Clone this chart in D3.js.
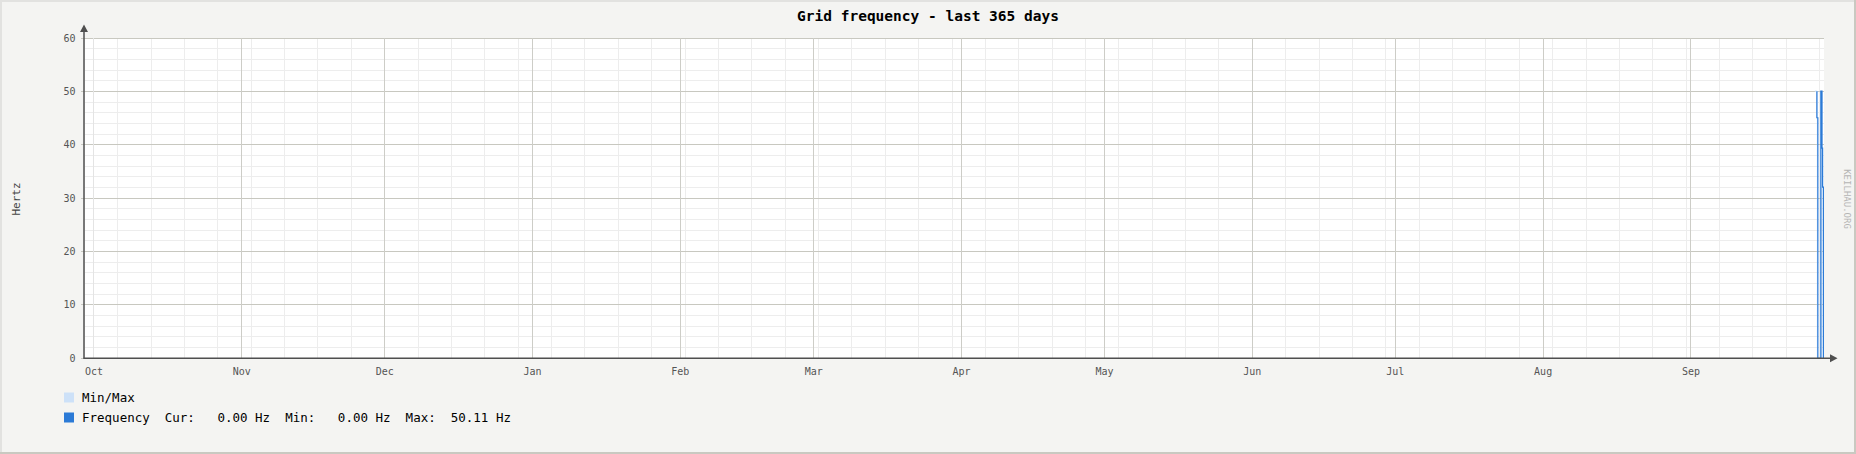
<!DOCTYPE html>
<html>
<head>
<meta charset="utf-8">
<script src="https://cdn.jsdelivr.net/npm/d3@7"></script>
<style>
  body { margin: 0; background: #f4f4f2; }
  svg { display: block; }
  text { font-family: "DejaVu Sans Mono", monospace; }
</style>
</head>
<body>
<script>
// Grid frequency - last 365 days (rrdtool style)

const timeStart = "2024-09-28T22:00Z";
const timeEnd = "2025-09-28T22:00Z";

const yTicks = [0, 10, 20, 30, 40, 50, 60];
const yMinorStep = 2;

const monthTicks = ["2024-10-01", "2024-11-01", "2024-12-01", "2025-01-01", "2025-02-01", "2025-03-01",
                    "2025-04-01", "2025-05-01", "2025-06-01", "2025-07-01", "2025-08-01", "2025-09-01"];
const monthLabels = ["Oct", "Nov", "Dec", "Jan", "Feb", "Mar", "Apr", "May", "Jun", "Jul", "Aug", "Sep"];

// frequency samples (average), only the last two days have data
const freqTimes = ["2025-09-27T09:00Z", "2025-09-27T10:00Z", "2025-09-27T15:00Z", "2025-09-28T06:00Z",
                   "2025-09-28T12:00Z", "2025-09-28T15:00Z", "2025-09-28T19:00Z", "2025-09-28T22:00Z"];
const freqValues = [50.0, 45.1, 0, 50.11, 39.4, 32.1, 0, 0];

// min/max band
const rangeStart = ["2025-09-27T00:00Z", "2025-09-27T10:00Z", "2025-09-28T06:00Z"];
const rangeEnd   = ["2025-09-27T10:00Z", "2025-09-27T15:00Z", "2025-09-28T13:00Z"];
const rangeMin = [49.95, 0, 0];
const rangeMax = [50.2, 50.11, 50.11];

const legendNames = ["Min/Max", "Frequency  Cur:   0.00 Hz  Min:   0.00 Hz  Max:  50.11 Hz"];
const legendColors = ["#cde1f8", "#2b7ad6"];

const width = 1856, height = 454;
const plot = { left: 84, right: 1824, top: 38.3, bottom: 358.3 };

const x = d3.scaleUtc()
    .domain([new Date(timeStart), new Date(timeEnd)])
    .range([plot.left, plot.right]);

const y = d3.scaleLinear()
    .domain([0, 60])
    .range([plot.bottom, plot.top]);

const svg = d3.select("body").append("svg")
    .attr("width", width)
    .attr("height", height);

// background + 3d-ish frame
svg.append("rect").attr("width", width).attr("height", height).attr("fill", "#f4f4f2");
svg.append("path").attr("d", `M1,${height} V1 H${width}`).attr("fill", "none")
    .attr("stroke", "#e2e2e0").attr("stroke-width", 2);
svg.append("path").attr("d", `M0,${height - 1} H${width - 1} V0`).attr("fill", "none")
    .attr("stroke", "#c9c9c1").attr("stroke-width", 2);

// plot area
svg.append("rect")
    .attr("x", plot.left).attr("y", plot.top)
    .attr("width", plot.right - plot.left).attr("height", plot.bottom - plot.top)
    .attr("fill", "#ffffff");

const grid = svg.append("g").attr("shape-rendering", "crispEdges");

// minor horizontal grid
const yMinor = d3.range(0, 60 + 0.001, yMinorStep).filter(v => !yTicks.includes(v));
grid.selectAll("line.ymin").data(yMinor).join("line")
    .attr("x1", plot.left).attr("x2", plot.right)
    .attr("y1", d => y(d)).attr("y2", d => y(d))
    .attr("stroke", "#ededed");

// minor vertical grid, weekly
const weeks = d3.utcSunday.range(x.domain()[0], x.domain()[1]);
grid.selectAll("line.xmin").data(weeks).join("line")
    .attr("x1", d => x(d)).attr("x2", d => x(d))
    .attr("y1", plot.top).attr("y2", plot.bottom)
    .attr("stroke", "#ededed");

// major grid
grid.selectAll("line.ymaj").data(yTicks).join("line")
    .attr("x1", plot.left - 3).attr("x2", plot.right)
    .attr("y1", d => y(d)).attr("y2", d => y(d))
    .attr("stroke", "#c8c8c0");

grid.selectAll("line.xmaj").data(monthTicks).join("line")
    .attr("x1", d => x(new Date(d))).attr("x2", d => x(new Date(d)))
    .attr("y1", plot.top).attr("y2", plot.bottom)
    .attr("stroke", (d, i) => i === 0 ? "#e4e4e4" : "#cdcdc7");

// data
const clip = svg.append("clipPath").attr("id", "clip")
  .append("rect")
    .attr("x", plot.left).attr("y", plot.top - 2)
    .attr("width", plot.right - plot.left).attr("height", plot.bottom - plot.top + 2);

const dataG = svg.append("g").attr("clip-path", "url(#clip)");

dataG.selectAll("rect.band").data(rangeStart).join("rect")
    .attr("x", (d, i) => x(new Date(d)))
    .attr("width", (d, i) => x(new Date(rangeEnd[i])) - x(new Date(d)))
    .attr("y", (d, i) => y(rangeMax[i]))
    .attr("height", (d, i) => Math.max(1, y(rangeMin[i]) - y(rangeMax[i])))
    .attr("fill", legendColors[0]);

const freq = freqTimes.map((t, i) => ({ t: new Date(t), v: freqValues[i] }));
const line = d3.line()
    .x(d => x(d.t))
    .y(d => y(d.v))
    .curve(d3.curveStepAfter);

dataG.append("path")
    .datum(freq)
    .attr("d", line)
    .attr("fill", "none")
    .attr("stroke", legendColors[1])
    .attr("stroke-width", 1.2);

// axes
const axisColor = "#4f4f4f";
svg.append("line")
    .attr("x1", plot.left).attr("x2", plot.left)
    .attr("y1", plot.bottom + 0.5).attr("y2", 31)
    .attr("stroke", axisColor).attr("stroke-width", 1.5);
svg.append("path")
    .attr("d", `M${plot.left - 4},${32} L${plot.left + 4},${32} L${plot.left},${24.5} Z`)
    .attr("fill", axisColor);

svg.append("line")
    .attr("x1", plot.left - 0.5).attr("x2", 1831)
    .attr("y1", plot.bottom).attr("y2", plot.bottom)
    .attr("stroke", axisColor).attr("stroke-width", 1.5);
svg.append("path")
    .attr("d", `M1830,${plot.bottom - 4} L1830,${plot.bottom + 4} L1837.5,${plot.bottom} Z`)
    .attr("fill", axisColor);

// tick labels
svg.append("g").selectAll("text").data(yTicks).join("text")
    .attr("x", 75.5)
    .attr("y", d => y(d))
    .attr("dy", "0.33em")
    .attr("text-anchor", "end")
    .attr("font-size", 10)
    .attr("fill", "#555555")
    .text(d => d);

svg.append("g").selectAll("text").data(monthTicks).join("text")
    .attr("x", d => x(new Date(d)))
    .attr("y", 375.3)
    .attr("text-anchor", "middle")
    .attr("font-size", 10)
    .attr("fill", "#555555")
    .text((d, i) => monthLabels[i]);

// title
svg.append("text")
    .attr("x", 928).attr("y", 20.5)
    .attr("text-anchor", "middle")
    .attr("font-size", 14.5)
    .attr("font-weight", "bold")
    .attr("fill", "#000")
    .text("Grid frequency - last 365 days");

// y label
svg.append("text")
    .attr("transform", "translate(19.5,199) rotate(-90)")
    .attr("text-anchor", "middle")
    .attr("font-size", 11)
    .attr("fill", "#444")
    .text("Hertz");

// watermark
svg.append("text")
    .attr("transform", "translate(1843.5,199) rotate(90)")
    .attr("text-anchor", "middle")
    .attr("font-size", 9)
    .attr("fill", "#b4b4b4")
    .text("KEILHAU.ORG");

// legend
const legend = svg.append("g");
const legendY = [401.8, 421.8];
legend.selectAll("rect").data(legendNames).join("rect")
    .attr("x", 64).attr("y", (d, i) => legendY[i] - 9.3)
    .attr("width", 10).attr("height", 10)
    .attr("fill", (d, i) => legendColors[i]);
legend.selectAll("text").data(legendNames).join("text")
    .attr("x", 82)
    .attr("y", (d, i) => legendY[i])
    .attr("font-size", 12.5)
    .attr("fill", "#000")
    .style("white-space", "pre")
    .text(d => d);
</script>
</body>
</html>
